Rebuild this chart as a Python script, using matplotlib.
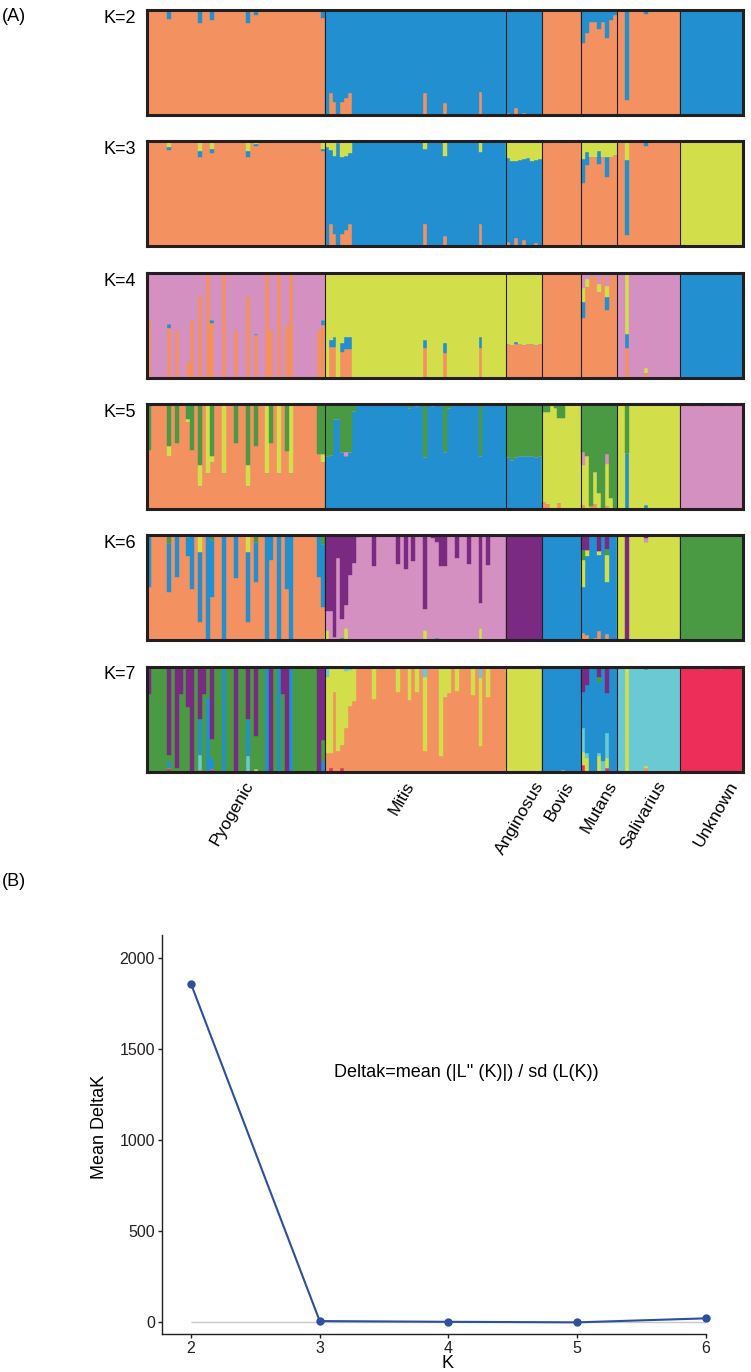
import matplotlib
matplotlib.use("Agg")
import matplotlib.pyplot as plt
import matplotlib.transforms as mtransforms
import numpy as np

plt.rcParams["font.family"] = ["Liberation Sans", "DejaVu Sans"]

# Groups of the STRUCTURE plot (individuals per group).
groups = ["Pyogenic", "Mitis", "Anginosus", "Bovis", "Mutans", "Salivarius", "Unknown"]
group_sizes = [45, 46, 9, 10, 9, 16, 16]

# Cluster colours: o=orange b=blue y=yellow p=pink g=green v=purple c=cyan r=red
colors = {"o": "#f39260", "b": "#2290d0", "y": "#d3de4b", "p": "#d490c0",
          "g": "#4a9a44", "v": "#7a2a80", "c": "#6ac9d2", "r": "#ec2e58"}

# For every K: stacking order (bottom->top), main cluster per group,
# and admixed individuals {index: {cluster: fraction}}.
k2_order = "ob"
k2_base = ["o", "b", "b", "o", "o", "o", "b"]
k2_mix = {5: {"b": .09}, 13: {"b": .12}, 16: {"b": .10}, 25: {"b": .12}, 27: {"b": .05},
          35: {"b": .01}, 44: {"b": .08},
          46: {"o": .21}, 47: {"o": .12}, 49: {"o": .12}, 50: {"o": .16}, 51: {"o": .21},
          52: {"o": .01}, 70: {"o": .21}, 75: {"o": .11}, 84: {"o": .22},
          91: {"o": .02}, 93: {"o": .07}, 95: {"o": .02}, 98: {"o": .01}, 105: {"b": .01},
          110: {"b": .31}, 111: {"b": .22}, 112: {"b": .11}, 113: {"b": .11}, 114: {"b": .18},
          115: {"b": .11}, 116: {"b": .27}, 117: {"b": .10}, 118: {"b": .05},
          121: {"b": .86}, 126: {"b": .04}}

k3_order = "oby"
k3_base = ["o", "b", "b", "o", "o", "o", "y"]
k3_mix = {5: {"y": .05, "b": .03}, 13: {"y": .09, "b": .055}, 16: {"y": .07, "b": .04},
          25: {"y": .09, "b": .055}, 27: {"y": .03, "b": .01}, 44: {"y": .07, "b": .02},
          45: {"y": .05}, 46: {"y": .08, "o": .21}, 47: {"y": .14, "o": .12}, 48: {"y": .02},
          49: {"y": .15, "o": .12}, 50: {"y": .14, "o": .16}, 51: {"y": .11, "o": .21},
          52: {"o": .01}, 70: {"y": .07, "o": .21}, 75: {"y": .14, "o": .10},
          84: {"y": .10, "o": .21},
          91: {"y": .16, "o": .04}, 92: {"y": .19}, 93: {"y": .19, "o": .08}, 94: {"y": .18},
          95: {"y": .17, "o": .06}, 96: {"y": .16}, 97: {"y": .19}, 98: {"y": .18, "o": .03},
          99: {"y": .17}, 105: {"y": .02},
          110: {"y": .17, "b": .23}, 111: {"y": .10, "b": .13}, 112: {"y": .15}, 113: {"y": .15},
          114: {"y": .09, "b": .13}, 115: {"y": .15}, 116: {"y": .15, "b": .19}, 117: {"y": .15},
          118: {"y": .13}, 121: {"y": .18, "b": .71}, 126: {"b": .04}, 141: {"o": .01}}

k4_order = "obyp"
k4_base = ["p", "y", "y", "o", "o", "p", "b"]
k4_mix = {0: {"o": .55}, 5: {"o": .47, "b": .04}, 7: {"o": .45}, 10: {"o": .15}, 11: {"o": .55},
          13: {"o": .78}, 15: {"o": 1.0}, 16: {"o": .52, "b": .03}, 19: {"o": 1.0},
          22: {"o": .45}, 25: {"o": .78}, 27: {"o": .41, "b": .01}, 30: {"o": 1.0},
          31: {"o": .45}, 33: {"o": 1.0}, 35: {"o": .50}, 36: {"o": 1.0}, 43: {"o": .45},
          44: {"o": .50, "b": .05},
          46: {"o": .29, "b": .07}, 47: {"o": .29, "b": .10}, 49: {"o": .24, "b": .09},
          50: {"o": .27, "b": .12}, 51: {"o": .27, "b": .12}, 52: {"o": .01}, 66: {"o": .01},
          70: {"o": .28, "b": .08}, 75: {"o": .23, "b": .10}, 77: {"b": .01}, 84: {"o": .28, "b": .11},
          91: {"o": .32}, 92: {"o": .31}, 93: {"o": .32, "b": .02}, 94: {"o": .32}, 95: {"o": .31},
          96: {"o": .32}, 97: {"o": .32}, 98: {"o": .31}, 99: {"o": .32},
          110: {"p": .15, "y": .13, "b": .15}, 111: {"p": .06, "y": .08}, 112: {"p": .03},
          113: {"p": .03}, 114: {"p": .11, "y": .07}, 115: {"p": .03},
          116: {"p": .13, "y": .10, "b": .13}, 117: {"p": .03},
          121: {"y": .58, "b": .14, "o": .28}, 126: {"y": .05, "o": .04},
          136: {"o": .01}, 141: {"o": .01}}

k5_order = "obypg"
k5_base = ["o", "b", "g", "y", "g", "y", "p"]
k5_mix = {0: {"g": .44}, 5: {"g": .40, "y": .10}, 7: {"g": .37}, 10: {"g": .14, "y": .03},
          11: {"g": .44}, 13: {"g": .58, "y": .20}, 15: {"y": .66}, 16: {"g": .50, "y": .05},
          19: {"y": .66}, 22: {"g": .37}, 25: {"g": .58, "y": .20}, 27: {"g": .40},
          30: {"y": .66}, 31: {"g": .37}, 33: {"y": .66}, 35: {"g": .45}, 36: {"y": .66},
          43: {"g": .48}, 44: {"g": .48, "y": .07},
          45: {"g": .50}, 46: {"g": .49}, 47: {"g": .14}, 48: {"g": .14}, 49: {"g": .46},
          50: {"g": .46, "p": .04}, 51: {"g": .46}, 52: {"g": .07}, 57: {"g": .01},
          66: {"g": .04}, 68: {"g": .02}, 70: {"g": .51}, 72: {"g": .02}, 75: {"g": .46},
          76: {"g": .04}, 84: {"g": .50},
          91: {"b": .49}, 92: {"b": .47}, 93: {"b": .49}, 94: {"b": .50}, 95: {"b": .50},
          96: {"b": .50}, 97: {"b": .50}, 98: {"b": .49}, 99: {"b": .50},
          100: {"g": .08, "o": .07}, 101: {"g": .08, "o": .05}, 103: {"g": .04},
          104: {"g": .13, "o": .06}, 105: {"g": .13},
          110: {"p": .12, "y": .38, "o": .04}, 111: {"y": .50}, 112: {"o": .03},
          113: {"y": .30, "o": .05}, 114: {"y": .15}, 116: {"p": .09, "y": .40, "o": .03},
          117: {"y": .10},
          121: {"g": .47, "b": .53}, 126: {"b": .04}, 140: {"g": .02}, 145: {"g": .02}}

k6_order = "obygpv"
k6_base = ["o", "p", "v", "b", "b", "y", "g"]
k6_mix = {0: {"b": .49}, 5: {"g": .07, "b": .47}, 7: {"b": .40}, 10: {"b": .18, "y": .02},
          11: {"b": .51}, 13: {"y": .16, "b": .67}, 15: {"b": 1.0}, 16: {"g": .05, "b": .54},
          19: {"b": 1.0}, 22: {"b": .41}, 25: {"y": .16, "b": .67}, 27: {"g": .06, "b": .39},
          30: {"b": 1.0}, 31: {"b": .24}, 33: {"b": 1.0}, 35: {"b": .51}, 36: {"b": 1.0},
          43: {"b": .40}, 44: {"g": .08, "b": .60},
          45: {"v": .72, "y": .10}, 46: {"v": .72}, 47: {"v": .97}, 48: {"v": .22},
          49: {"v": .80, "g": .02}, 50: {"v": .66, "y": .12}, 51: {"v": .38}, 52: {"v": .26},
          53: {"v": .02}, 57: {"v": .29}, 63: {"v": .27}, 65: {"v": .32}, 67: {"v": .25},
          70: {"v": .70, "y": .10}, 72: {"v": .03}, 73: {"v": .06, "b": .02}, 74: {"v": .29},
          75: {"v": .29}, 78: {"v": .22}, 81: {"v": .27}, 84: {"v": .65, "y": .12}, 86: {"v": .28},
          110: {"v": .14, "g": .10, "y": .25, "o": .07}, 111: {"v": .14, "y": .06, "o": .05},
          113: {"o": .02}, 114: {"v": .15, "y": .04, "o": .09},
          116: {"v": .13, "g": .06, "y": .26, "o": .06},
          121: {"v": 1.0}, 126: {"v": .03, "p": .03, "b": .01}, 141: {"o": .01}, 146: {"b": .01}}

k7_order = "roycbgv"
k7_base = ["g", "o", "y", "b", "b", "c", "r"]
k7_mix = {0: {"v": .26}, 5: {"v": .84, "b": .07, "r": .03}, 7: {"v": .97}, 8: {"v": .26},
          10: {"v": .39}, 11: {"v": 1.0}, 13: {"v": .50, "b": .34, "c": .15, "r": .01},
          14: {"v": .26}, 15: {"b": .70}, 16: {"v": .69, "b": .11, "r": .02}, 19: {"b": 1.0},
          22: {"v": 1.0}, 25: {"v": .50, "b": .34, "c": .15}, 27: {"v": .66, "y": .02},
          30: {"b": 1.0}, 31: {"v": 1.0}, 33: {"b": 1.0}, 34: {"v": .26}, 35: {"v": 1.0},
          36: {"b": 1.0}, 43: {"v": 1.0}, 44: {"v": .70, "b": .10},
          45: {"c": .10, "y": .72}, 46: {"y": .82, "r": .03}, 47: {"y": .24}, 48: {"y": .80},
          49: {"y": .75, "r": .03}, 50: {"y": .55, "c": .04}, 51: {"y": .35, "c": .03},
          52: {"y": .33}, 57: {"y": .31}, 63: {"y": .24}, 66: {"y": .32}, 68: {"y": .24},
          70: {"c": .10, "y": .70}, 72: {"c": .02}, 73: {"c": .02}, 74: {"y": .85},
          75: {"y": .29}, 76: {"y": .25}, 78: {"y": .23}, 82: {"y": .27},
          84: {"c": .11, "y": .65}, 86: {"y": .29}, 105: {"o": .01},
          110: {"v": .24, "c": .22, "y": .13, "r": .06}, 111: {"v": .18, "c": .05, "y": .13},
          114: {"v": .10, "g": .05, "c": .03, "y": .15}, 115: {"c": .10},
          116: {"v": .25, "c": .24, "y": .10, "r": .03},
          121: {"y": 1.0}, 126: {"o": .03, "y": .02, "v": .02}, 140: {"v": .02}, 145: {"v": .02}}

panels = [("K=2", k2_order, k2_base, k2_mix), ("K=3", k3_order, k3_base, k3_mix),
          ("K=4", k4_order, k4_base, k4_mix), ("K=5", k5_order, k5_base, k5_mix),
          ("K=6", k6_order, k6_base, k6_mix), ("K=7", k7_order, k7_base, k7_mix)]

# Evanno DeltaK
k_values = [2, 3, 4, 5, 6]
mean_delta_k = [1858, 5, 1, -2, 20]

n = sum(group_sizes)
bounds = np.cumsum([0] + group_sizes)
group_of = np.repeat(np.arange(len(groups)), group_sizes)
dark = "#231f20"

fig = plt.figure(figsize=(7.51, 13.72), dpi=100)
W, H = 751.0, 1372.0


def membership(order, base, mix):
    q = np.zeros((n, len(order)))
    for i in range(n):
        for c, f in mix.get(i, {}).items():
            q[i, order.index(c)] += f
        q[i, order.index(base[group_of[i]])] += max(0.0, 1 - q[i].sum())
        q[i] /= q[i].sum()
    return q


x = np.arange(n)
for p, (label, order, base, mix) in enumerate(panels):
    top = 10 + 131.3 * p
    ax = fig.add_axes([147 / W, 1 - (top + 105) / H, 596 / W, 105 / H])
    q = membership(order, base, mix)
    bottom = np.zeros(n)
    for j, c in enumerate(order):
        ax.bar(x, q[:, j], bottom=bottom, width=1.0, align="edge",
               color=colors[c], edgecolor=colors[c], linewidth=0.3)
        bottom += q[:, j]
    for b in bounds[1:-1]:
        ax.axvline(b, color=dark, lw=0.8)
    ax.set_xlim(0, n)
    ax.set_ylim(0, 1)
    ax.set_xticks([])
    ax.set_yticks([])
    for s in ax.spines.values():
        s.set_linewidth(2.2)
        s.set_color(dark)
    ax.text(-0.073, 0.92, label, transform=ax.transAxes, ha="left", va="center",
            fontsize=13)

# group labels under the last panel (hand placed, shift in individuals)
label_shift = [2, -3, 2.5, 0.5, 2, 2, 4]
trans = mtransforms.blended_transform_factory(ax.transData, ax.transAxes)
for g, name in enumerate(groups):
    centre = (bounds[g] + bounds[g + 1]) / 2
    ax.text(centre + label_shift[g], -0.07, name, transform=trans, rotation=60,
            ha="right", va="top", rotation_mode="anchor", fontsize=12.5)

fig.text(2 / W, 1 - 8 / H, "(A)", ha="left", va="top", fontsize=13)
fig.text(2 / W, 1 - 873 / H, "(B)", ha="left", va="top", fontsize=13)

# DeltaK plot
bx = fig.add_axes([162 / W, 1 - 1334 / H, 544 / W, 399 / H])
bx.hlines(0, 2, 6, color="#c8c8c8", lw=1)
bx.plot(k_values, mean_delta_k, color="#2c4f9e", lw=1.5, marker="o", markersize=5,
        clip_on=False, zorder=3)
bx.set_xlim(1.775, 6.0)
bx.set_ylim(-66, 2126)
bx.set_xticks(k_values)
bx.set_yticks([0, 500, 1000, 1500, 2000])
bx.spines["top"].set_visible(False)
bx.spines["right"].set_visible(False)
for s in ["left", "bottom"]:
    bx.spines[s].set_linewidth(1)
    bx.spines[s].set_color(dark)
bx.tick_params(direction="out", length=3, width=1, pad=2, labelsize=11.5, colors=dark)
bx.set_xlabel("K", fontsize=13)
bx.xaxis.set_label_coords(0.524, -0.052)
bx.set_ylabel("Mean DeltaK", fontsize=13)
bx.yaxis.set_label_coords(-0.1, 0.52)
bx.text(4.14, 1368, "Deltak=mean (|L'' (K)|) / sd (L(K))", ha="center", va="center",
        fontsize=13)

fig.savefig("out.png", dpi=100)
